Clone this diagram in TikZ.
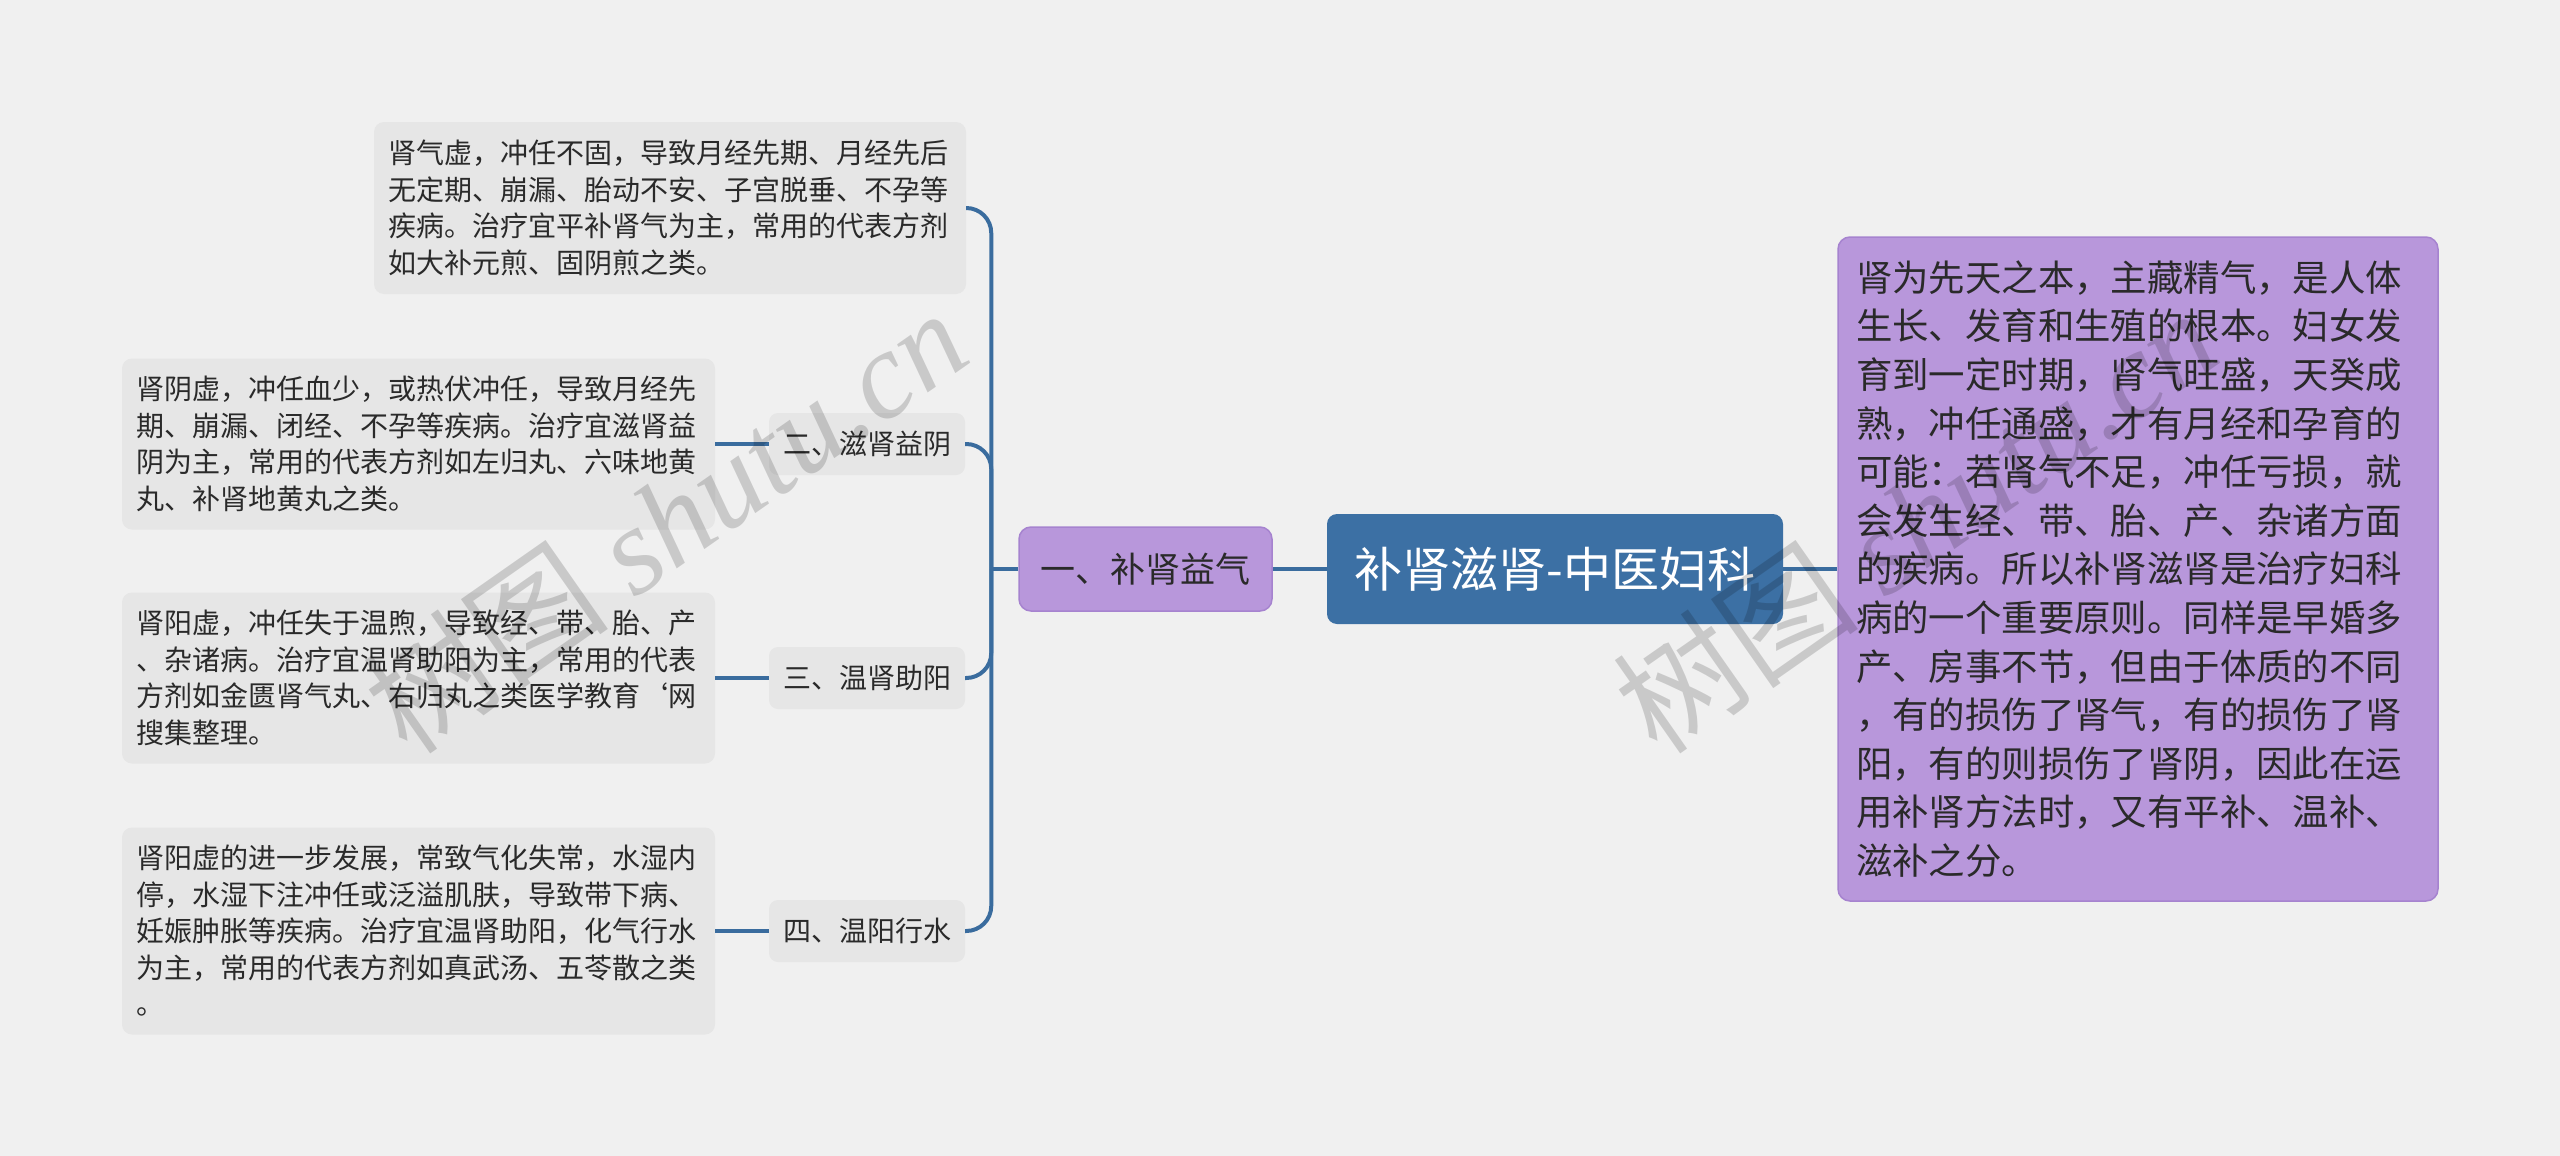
\documentclass[tikz,border=0pt]{standalone}
\usepackage{fontspec}
\setmainfont{Noto Sans CJK SC}
\newfontfamily\wmserif{Liberation Serif}
\usetikzlibrary{calc}
\definecolor{bgc}{HTML}{F0F0F0}
\definecolor{grayboxc}{HTML}{E6E6E6}
\definecolor{mainblue}{HTML}{3C70A4}
\definecolor{linkblue}{HTML}{3A6C9E}
\definecolor{purp}{HTML}{B897DB}
\definecolor{purpborder}{HTML}{A683CF}
\definecolor{txtc}{HTML}{2A2A2A}
\tikzset{
  leafbox/.style={fill=grayboxc, rounded corners=10pt, inner sep=0pt, align=left,
    font=\fontsize{28}{36.5}\selectfont, text=txtc, text width=564pt, minimum width=592pt},
  subbox/.style={fill=grayboxc, rounded corners=9pt, inner sep=0pt, minimum width=196pt,
    minimum height=62pt, font=\fontsize{28}{34}\selectfont, text=txtc},
  purpbox/.style={fill=purp, draw=purpborder, line width=1.5pt, inner sep=0pt, text=txtc},
  rootbox/.style={fill=mainblue, rounded corners=10pt, inner sep=0pt, minimum width=456pt,
    minimum height=110pt, font=\fontsize{48}{56}\selectfont, text=white},
  link/.style={draw=linkblue, line width=4pt},
  wmark/.style={rotate=35, text=black, opacity=0.16, inner sep=0pt, font=\fontsize{124}{130}\selectfont}
}
\begin{document}
\begin{tikzpicture}[x=1pt,y=-1pt]
\fill[bgc] (0,0) rectangle (2560,1156);
\useasboundingbox (0,0) rectangle (2560,1156);

% root
\node[rootbox] (root) at (1555,569) {补肾滋肾-中医妇科};

% right description
\node[purpbox, rounded corners=12pt, minimum width=600pt, minimum height=664pt, align=left,
  text width=564pt, font=\fontsize{36.4}{48.6}\selectfont] (desc) at (2138,569)
{肾为先天之本，主藏精气，是人体\\
生长、发育和生殖的根本。妇女发\\
育到一定时期，肾气旺盛，天癸成\\
熟，冲任通盛，才有月经和孕育的\\
可能：若肾气不足，冲任亏损，就\\
会发生经、带、胎、产、杂诸方面\\
的疾病。所以补肾滋肾是治疗妇科\\
病的一个重要原则。同样是早婚多\\
产、房事不节，但由于体质的不同\\
，有的损伤了肾气，有的损伤了肾\\
阳，有的则损伤了肾阴，因此在运\\
用补肾方法时，又有平补、温补、\\
滋补之分。};

% level 1
\node[purpbox, rounded corners=12pt, minimum width=253pt, minimum height=84pt,
  font=\fontsize{35}{40}\selectfont] (yi) at (1145.5,569) {一、补肾益气};

% children of yi
\node[leafbox, minimum height=172pt] (t1) at (670,208)
{肾气虚，冲任不固，导致月经先期、月经先后\\
无定期、崩漏、胎动不安、子宫脱垂、不孕等\\
疾病。治疗宜平补肾气为主，常用的代表方剂\\
如大补元煎、固阴煎之类。};

\node[subbox] (er) at (867,444) {二、滋肾益阴};
\node[subbox] (san) at (867,678) {三、温肾助阳};
\node[subbox] (si) at (867,931) {四、温阳行水};

\node[leafbox, minimum height=171pt, minimum width=593pt] (t2) at (418.5,444)
{肾阴虚，冲任血少，或热伏冲任，导致月经先\\
期、崩漏、闭经、不孕等疾病。治疗宜滋肾益\\
阴为主，常用的代表方剂如左归丸、六味地黄\\
丸、补肾地黄丸之类。};

\node[leafbox, minimum height=171pt, minimum width=593pt] (t3) at (418.5,678)
{肾阳虚，冲任失于温煦，导致经、带、胎、产\\
、杂诸病。治疗宜温肾助阳为主，常用的代表\\
方剂如金匮肾气丸、右归丸之类医学教育{\char96}网\\
搜集整理。};

\node[leafbox, minimum height=207pt, minimum width=593pt] (t4) at (418.5,931)
{肾阳虚的进一步发展，常致气化失常，水湿内\\
停，水湿下注冲任或泛溢肌肤，导致带下病、\\
妊娠肿胀等疾病。治疗宜温肾助阳，化气行水\\
为主，常用的代表方剂如真武汤、五苓散之类\\
。};

% connectors
\draw[link] (root.west) -- (yi.east);
\draw[link] (root.east) -- (desc.west);
\coordinate (j) at ($(yi.west)+(-27pt,0pt)$);
\draw[link] (yi.west) -- (j);
\draw[link, rounded corners=25pt] (j) |- (t1.east);
\draw[link, rounded corners=25pt] (j) |- (er.east);
\draw[link, rounded corners=25pt] (j) |- (san.east);
\draw[link, rounded corners=25pt] (j) |- (si.east);
\draw[link] (er.west) -- (t2.east);
\draw[link] (san.west) -- (t3.east);
\draw[link] (si.west) -- (t4.east);

% watermarks
\node[wmark] (wm1) at (665,520) {树图 {\wmserif\itshape shutu.cn}};
\node[wmark] (wm2) at (1915,520) {树图 {\wmserif\itshape shutu.cn}};
\end{tikzpicture}
\end{document}
